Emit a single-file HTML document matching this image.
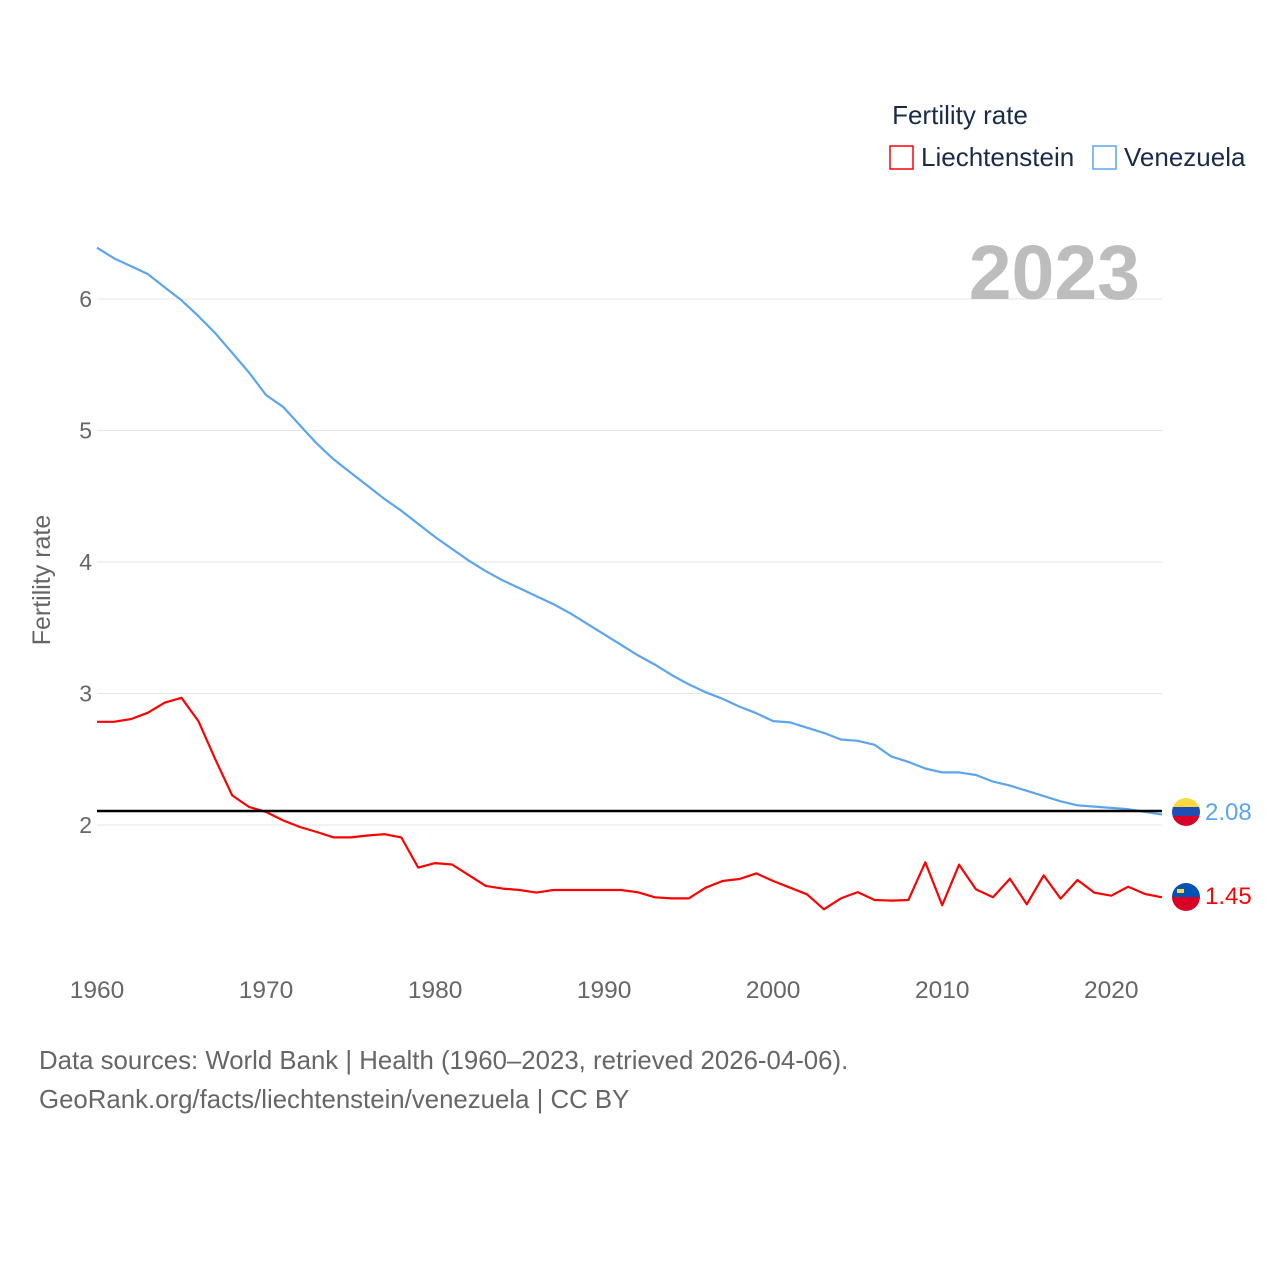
<!DOCTYPE html>
<html><head><meta charset="utf-8"><style>
html,body{margin:0;padding:0;background:#fff;}
body{width:1280px;height:1280px;position:relative;font-family:"Liberation Sans",sans-serif;overflow:hidden;}
svg{position:absolute;left:0;top:0;}
</style></head><body>
<svg id="chart" width="1280" height="1280">
  <defs>
    <clipPath id="flagclip-ve"><circle cx="1186" cy="812" r="14"/></clipPath>
    <clipPath id="flagclip-li"><circle cx="1186" cy="897" r="14"/></clipPath>
  </defs>
  <g id="grid"></g>
  <g id="axes"></g>
  <text x="960" y="124" font-size="26" fill="#1a2b4a" text-anchor="middle">Fertility rate</text>
  <g>
    <rect x="890" y="146" width="23" height="23" fill="none" stroke="#ff0000" stroke-width="1.5"/>
    <text x="921" y="166" font-size="26" fill="#1a2b4a">Liechtenstein</text>
  </g>
  <g>
    <rect x="1093" y="146" width="23" height="23" fill="none" stroke="#5ca5ee" stroke-width="1.5"/>
    <text x="1124" y="166" font-size="26" fill="#1a2b4a">Venezuela</text>
  </g>
  <text x="1140" y="299" font-size="77" font-weight="bold" fill="#bdbdbd" text-anchor="end">2023</text>
  <text transform="translate(50,580) rotate(-90)" font-size="25" fill="#666" text-anchor="middle">Fertility rate</text>
  <g id="series"></g>
  <line x1="97" x2="1162" y1="811" y2="811" stroke="#000" stroke-width="2.5"/>
  <g clip-path="url(#flagclip-ve)">
    <rect x="1172" y="798" width="28" height="10" fill="#ffd83d"/>
    <rect x="1172" y="807" width="28" height="10" fill="#1f4fb4"/>
    <rect x="1172" y="816" width="28" height="12" fill="#d80027"/>
  </g>
  <g clip-path="url(#flagclip-li)">
    <rect x="1172" y="883" width="28" height="14" fill="#0052b4"/>
    <rect x="1172" y="897" width="28" height="14" fill="#d80027"/>
    <rect x="1177" y="889" width="7" height="4" fill="#ffd83d"/>
  </g>
  <text x="1205" y="820" font-size="24" fill="#5ca5ee">2.08</text>
  <text x="1205" y="904" font-size="24" fill="#ff0000">1.45</text>
  <text x="39" y="1069" font-size="25.8" fill="#666">Data sources: World Bank | Health (1960–2023, retrieved 2026-04-06).</text>
  <text x="39" y="1108" font-size="25.8" fill="#666">GeoRank.org/facts/liechtenstein/venezuela | CC BY</text>
</svg>
<script>
const years = [];
for (let y = 1960; y <= 2023; y++) years.push(y);
const liechtenstein = [2.785,2.785,2.805,2.853,2.93,2.967,2.79,2.50,2.225,2.137,2.10,2.035,1.985,1.947,1.906,1.906,1.92,1.93,1.906,1.676,1.71,1.70,1.618,1.537,1.516,1.506,1.486,1.506,1.506,1.506,1.506,1.506,1.488,1.45,1.442,1.442,1.523,1.574,1.589,1.632,1.574,1.523,1.473,1.359,1.442,1.49,1.43,1.425,1.43,1.716,1.39,1.698,1.51,1.45,1.592,1.397,1.617,1.44,1.582,1.485,1.462,1.531,1.475,1.45];
const venezuela = [6.39,6.31,6.25,6.19,6.09,5.99,5.87,5.74,5.59,5.44,5.27,5.18,5.04,4.90,4.78,4.68,4.58,4.48,4.39,4.29,4.19,4.10,4.01,3.93,3.86,3.80,3.74,3.68,3.61,3.53,3.45,3.37,3.29,3.22,3.14,3.07,3.01,2.96,2.90,2.85,2.79,2.78,2.74,2.70,2.65,2.64,2.61,2.52,2.48,2.43,2.40,2.40,2.38,2.33,2.30,2.26,2.22,2.18,2.15,2.14,2.13,2.12,2.10,2.08];
const yTicks = [2,3,4,5,6];
const xTicks = [1960,1970,1980,1990,2000,2010,2020];

const NS = "http://www.w3.org/2000/svg";
function xs(yr){ return 97 + (yr - 1960) * (1065 / 63); }
function ys(v){ return 825 - (v - 2) * 131.5; }

const grid = document.getElementById('grid');
const axes = document.getElementById('axes');
yTicks.forEach(t => {
  const l = document.createElementNS(NS, 'line');
  l.setAttribute('x1', 97); l.setAttribute('x2', 1162);
  l.setAttribute('y1', ys(t)); l.setAttribute('y2', ys(t));
  l.setAttribute('stroke', '#e6e6e6'); l.setAttribute('stroke-width', '1');
  
  
  grid.appendChild(l);
  const tx = document.createElementNS(NS, 'text');
  tx.setAttribute('x', 92); tx.setAttribute('y', ys(t) + 8);
  tx.setAttribute('font-size', '23'); tx.setAttribute('fill', '#666');
  tx.setAttribute('text-anchor', 'end');
  tx.textContent = t;
  
  
  axes.appendChild(tx);
});
xTicks.forEach(t => {
  const tx = document.createElementNS(NS, 'text');
  tx.setAttribute('x', xs(t)); tx.setAttribute('y', 998);
  tx.setAttribute('font-size', '24.5'); tx.setAttribute('fill', '#666');
  tx.setAttribute('text-anchor', 'middle');
  tx.textContent = t;
  
  
  axes.appendChild(tx);
});
const series = document.getElementById('series');
function drawLine(vals, color, name){
  const p = document.createElementNS(NS, 'polyline');
  p.setAttribute('points', vals.map((v,i) => xs(years[i]).toFixed(1) + ',' + ys(v).toFixed(1)).join(' '));
  p.setAttribute('fill', 'none'); p.setAttribute('stroke', color);
  p.setAttribute('stroke-width', '2.2'); p.setAttribute('stroke-linejoin', 'round');
  
  
  series.appendChild(p);
}
drawLine(venezuela, '#5ca5ee', 'venezuela-line');
drawLine(liechtenstein, '#ff0000', 'liechtenstein-line');
</script>
</body></html>
